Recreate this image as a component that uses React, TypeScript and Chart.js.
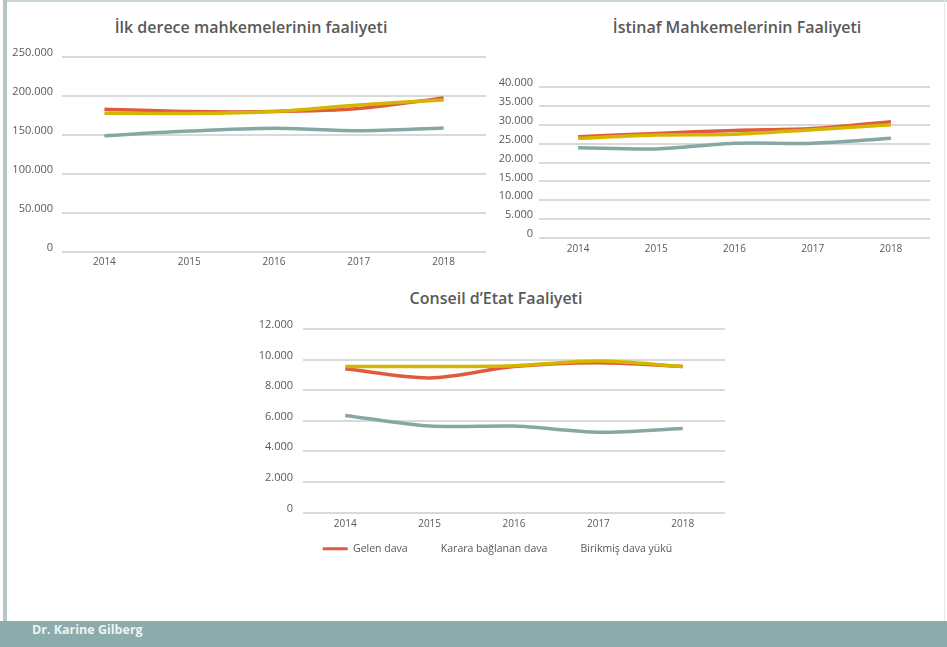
import React, { useEffect, useRef } from "react";
import { Chart, registerables } from "chart.js";

Chart.register(...registerables);

// ---- data ----
const years = ["2014", "2015", "2016", "2017", "2018"];
const seriesNames = ["Gelen dava", "Karara bağlanan dava", "Birikmiş dava yükü"];

const ilkGelen = [183000, 180000, 180000, 184000, 197500];
const ilkKarara = [178000, 177500, 180000, 188500, 195000];
const ilkBirikmis = [149000, 155000, 158500, 155500, 159000];

const istGelen = [26800, 27700, 28500, 29000, 30800];
const istKarara = [26400, 27300, 27500, 28700, 30000];
const istBirikmis = [23900, 23600, 25100, 25100, 26400];

const ceGelen = [9400, 8800, 9550, 9800, 9550];
const ceKarara = [9550, 9550, 9600, 9900, 9550];
const ceBirikmis = [6350, 5650, 5650, 5250, 5500];

const titles = [
  "İlk derece mahkemelerinin faaliyeti",
  "İstinaf Mahkemelerinin Faaliyeti",
  "Conseil d’Etat Faaliyeti",
];
const footerText = "Dr. Karine Gilberg";

// ---- styles ----
const RED = "#DF5B3C";
const YELLOW = "#D6B500";
const TEAL = "#86A8A5";
const colors = [RED, YELLOW, TEAL];
const GRID = "#D9D9D9";
const TEXT = "#595959";
const FONT = "'Open Sans', sans-serif";

const fmt = (v: number) => String(v).replace(/\B(?=(\d{3})+(?!\d))/g, ".");

type Cfg = {
  data: number[][];
  yMax: number;
  yStep: number;
  yWidth: number;
  yPad: number;
  xHeight: number;
  xPad: number;
  padding: { top: number; left: number; right: number; bottom: number };
  legend: boolean;
  legendShift: number;
};

function buildConfig(c: Cfg): any {
  const order = [1, 0, 2];
  return {
    type: "line",
    data: {
      labels: years,
      datasets: c.data.map((d, i) => ({
        label: seriesNames[i],
        data: d,
        borderColor: colors[i],
        backgroundColor: colors[i],
        borderWidth: 3.5,
        pointRadius: 0,
        tension: 0.3,
        fill: false,
        order: order[i],
      })),
    },
    plugins: [
      {
        id: "legendShift",
        afterLayout: (chart: any) => {
          const l = chart.legend;
          if (l && c.legend) {
            l.left += c.legendShift;
            l.right += c.legendShift;
          }
        },
      },
    ],
    options: {
      animation: false,
      responsive: false,
      devicePixelRatio: 1,
      layout: { padding: c.padding },
      plugins: {
        title: { display: false },
        tooltip: { enabled: false },
        legend: {
          display: c.legend,
          position: "bottom",
          labels: {
            font: { family: FONT, size: 10.5 },
            color: TEXT,
            boxWidth: 25,
            boxHeight: 3,
            padding: 3,
            generateLabels: (chart: any) =>
              chart.data.datasets.map((ds: any, i: number) => ({
                text: ds.label,
                fillStyle: i === 0 ? ds.borderColor : "rgba(0,0,0,0)",
                strokeStyle: "rgba(0,0,0,0)",
                lineWidth: 0,
                hidden: false,
                datasetIndex: i,
                fontColor: TEXT,
              })),
          },
        },
      },
      scales: {
        x: {
          offset: true,
          grid: { display: false, drawTicks: false, offset: true },
          border: { display: false },
          ticks: { font: { family: FONT, size: 10 }, color: TEXT, padding: c.xPad },
          afterFit: (s: any) => {
            s.height = c.xHeight;
          },
        },
        y: {
          min: 0,
          max: c.yMax,
          grid: { color: GRID, lineWidth: 2, drawTicks: false },
          border: { display: false },
          ticks: {
            stepSize: c.yStep,
            font: { family: FONT, size: 11 },
            color: TEXT,
            padding: c.yPad,
            labelOffset: -4,
            callback: (v: any) => fmt(Number(v)),
          },
          afterFit: (s: any) => {
            s.width = c.yWidth;
          },
        },
      },
    },
  };
}

function LineChart(props: { cfg: Cfg; left: number; top: number; width: number; height: number }) {
  const ref = useRef<HTMLCanvasElement>(null);
  useEffect(() => {
    if (!ref.current) return;
    const chart = new Chart(ref.current, buildConfig(props.cfg));
    return () => chart.destroy();
  }, []);
  return (
    <canvas
      ref={ref}
      width={props.width}
      height={props.height}
      style={{ position: "absolute", left: props.left, top: props.top, width: props.width, height: props.height }}
    />
  );
}

function Title(props: { text: string; cx: number; cy: number }) {
  return (
    <div
      style={{
        position: "absolute",
        left: props.cx,
        top: props.cy - 11,
        transform: "translateX(-50%)",
        whiteSpace: "nowrap",
        font: `600 16px ${FONT}`,
        lineHeight: "22px",
        color: TEXT,
      }}
    >
      {props.text}
    </div>
  );
}

export default function App() {
  const c1: Cfg = {
    data: [ilkGelen, ilkKarara, ilkBirikmis],
    yMax: 250000,
    yStep: 50000,
    yWidth: 56,
    yPad: 9,
    xHeight: 22,
    xPad: 4,
    padding: { top: 27, left: 0, right: 6, bottom: 6 },
    legend: false,
    legendShift: 0,
  };
  const c2: Cfg = {
    data: [istGelen, istKarara, istBirikmis],
    yMax: 40000,
    yStep: 5000,
    yWidth: 49,
    yPad: 6,
    xHeight: 22,
    xPad: 5,
    padding: { top: 57, left: 0, right: 10, bottom: 10 },
    legend: false,
    legendShift: 0,
  };
  const c3: Cfg = {
    data: [ceGelen, ceKarara, ceBirikmis],
    yMax: 12000,
    yStep: 2000,
    yWidth: 53,
    yPad: 10,
    xHeight: 28,
    xPad: 6,
    padding: { top: 19, left: 0, right: 20, bottom: 3 },
    legend: true,
    legendShift: 10,
  };
  return (
    <div
      style={{
        position: "fixed",
        left: 0,
        top: 0,
        width: 947,
        height: 647,
        background: "#FFFFFF",
        overflow: "hidden",
      }}
    >
      <div style={{ position: "absolute", left: 3, top: 0, width: 944, height: 2, background: "#C8D6D6" }} />
      <div style={{ position: "absolute", left: 3, top: 0, width: 4, height: 621, background: "#B3C5C4" }} />
      <div style={{ position: "absolute", left: 944, top: 0, width: 1, height: 621, background: "#E3EAEA" }} />

      <Title text={titles[0]} cx={251} cy={27} />
      <Title text={titles[1]} cx={737} cy={27} />
      <Title text={titles[2]} cx={496} cy={298} />

      <LineChart cfg={c1} left={6} top={30} width={486} height={250} />
      <LineChart cfg={c2} left={490} top={30} width={450} height={240} />
      <LineChart cfg={c3} left={250} top={310} width={495} height={257} />

      <div
        style={{
          position: "absolute",
          left: 0,
          top: 621,
          width: 947,
          height: 26,
          background: "#8CABAB",
        }}
      >
        <div
          style={{
            position: "absolute",
            left: 32,
            top: 0,
            lineHeight: "26px",
            font: `700 12.5px ${FONT}`,
            color: "#EEF4F4",
            whiteSpace: "nowrap",
          }}
        >
          {footerText}
        </div>
      </div>
    </div>
  );
}
